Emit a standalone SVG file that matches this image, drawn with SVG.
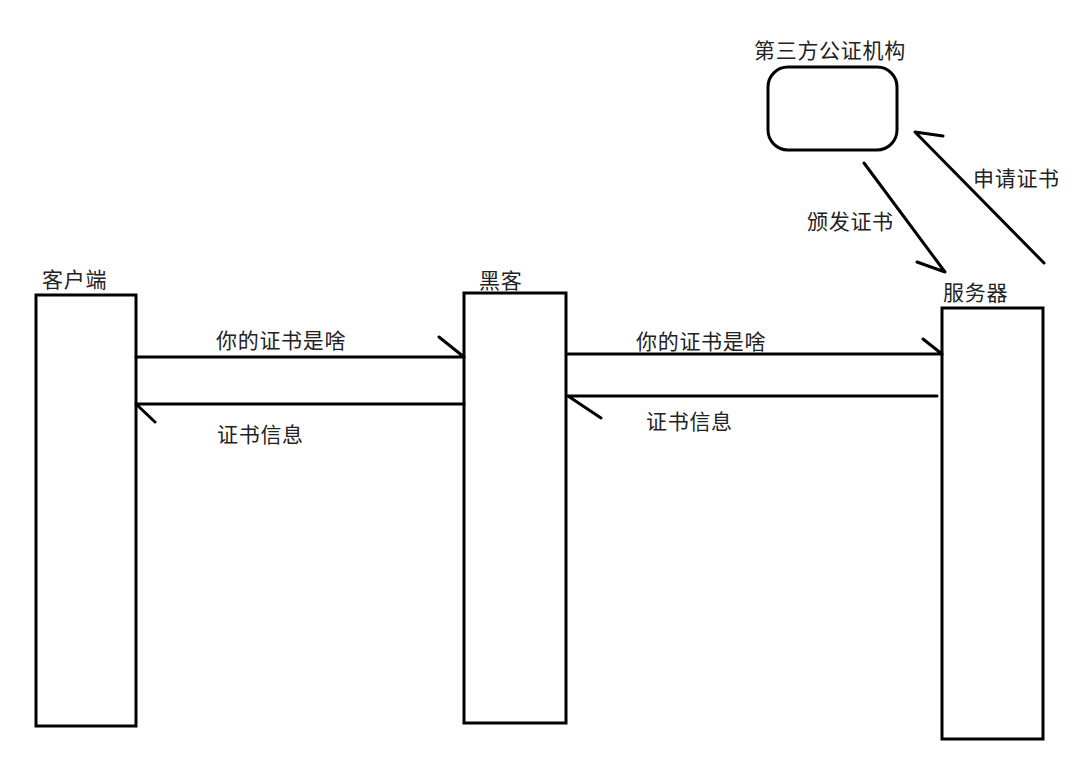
<svg xmlns="http://www.w3.org/2000/svg" width="1088" height="759" viewBox="0 0 1088 759">
<style>
.box{fill:none;stroke:#000;stroke-width:3}
.ln{fill:none;stroke:#000;stroke-width:3;stroke-linecap:round;stroke-linejoin:round}
.t{font-family:"Noto Sans CJK SC","Microsoft YaHei",sans-serif;font-size:21px;letter-spacing:0.7px;fill:#222}
</style>
<rect width="1088" height="759" fill="#fff"/>
<g id="client">
<rect class="box" x="36" y="295" width="100" height="431"/>
<text class="t" x="42" y="286.5">客户端</text>
</g>
<g id="hacker">
<rect class="box" x="464" y="293" width="102" height="430"/>
<text class="t" x="479" y="287.5">黑客</text>
</g>
<g id="server">
<rect class="box" x="942" y="308" width="101" height="431"/>
<text class="t" x="943" y="299.5">服务器</text>
</g>
<g id="ca">
<rect class="box" x="768" y="67" width="129" height="83" rx="20" ry="20"/>
<text class="t" x="754" y="57.5">第三方公证机构</text>
</g>
<g id="connectors">
<path class="ln" d="M136 357 H464 M439 337 L464 357"/>
<text class="t" x="216" y="347.5">你的证书是啥</text>
<path class="ln" d="M464 404 H136 L155 422"/>
<text class="t" x="217" y="441.5">证书信息</text>
<path class="ln" d="M568 354 H942 M923 339 L942 354"/>
<text class="t" x="636" y="348.5">你的证书是啥</text>
<path class="ln" d="M937 396 H568 L601 418"/>
<text class="t" x="646" y="428.5">证书信息</text>
<path class="ln" d="M864 163 L945 272 M917 262 L945 272"/>
<text class="t" x="807" y="228.5">颁发证书</text>
<path class="ln" d="M1044 263 L915 132 L943 136"/>
<text class="t" x="973" y="185.5">申请证书</text>
</g>
</svg>
